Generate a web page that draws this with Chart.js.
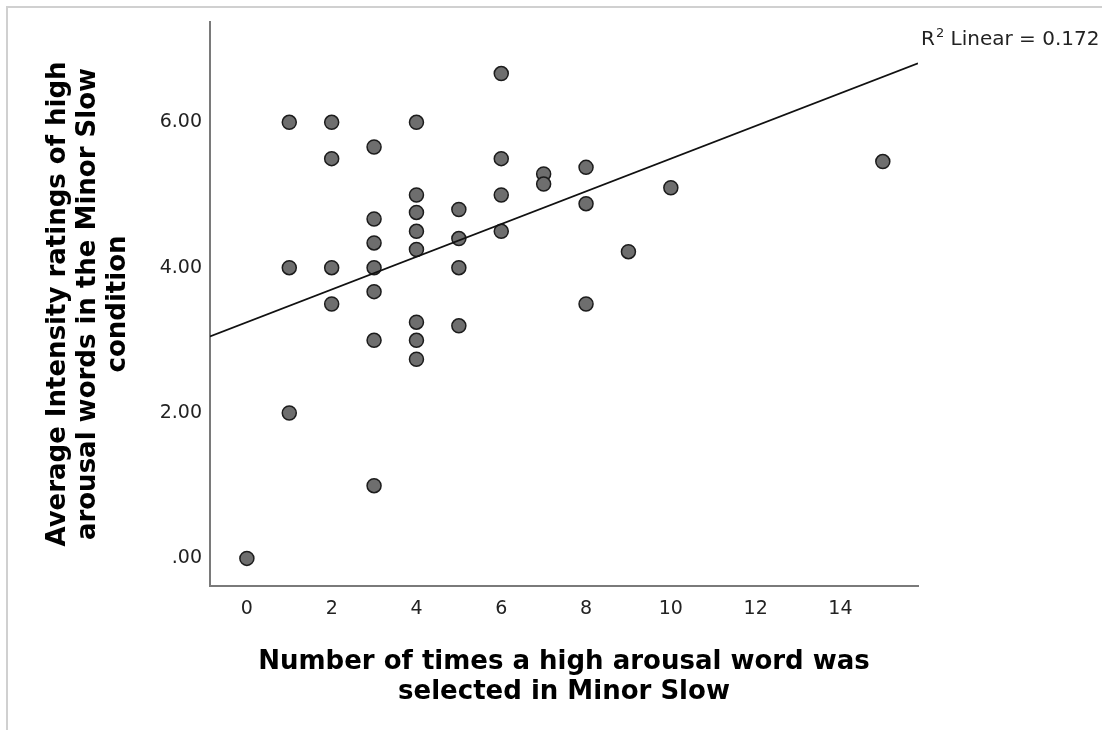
<!DOCTYPE html>
<html>
<head>
<meta charset="utf-8">
<title>Minor Slow</title>
<script src="https://cdn.jsdelivr.net/npm/chart.js@4.4.1/dist/chart.umd.min.js"></script>
<style>
  html, body { margin: 0; padding: 0; background: #fff; }
  #moldura { position: absolute; left: 6px; top: 6px; width: 1096px; height: 724px; border-top: 2px solid #d0d0d0; border-left: 2px solid #d0d0d0; }
  #caixa { position: absolute; left: 0; top: 0; width: 1102px; height: 730px; }
</style>
</head>
<body>
<div id="moldura"></div>
<div id="caixa"><canvas id="grafico"></canvas></div>
<script>
// axis ticks
var xTicks = [0, 2, 4, 6, 8, 10, 12, 14];
var yTicks = [0, 2, 4, 6];
var yTickLabels = ['.00', '2.00', '4.00', '6.00'];

// one entry per participant: times a high arousal word was selected / average rating
var selectedCounts = [
    0,
    1, 1, 1,
    2, 2, 2, 2,
    3, 3, 3, 3, 3, 3, 3,
    4, 4, 4, 4, 4, 4, 4, 4,
    5, 5, 5, 5,
    6, 6, 6, 6,
    7, 7,
    8, 8, 8,
    9,
    10,
    15
];
var intensityRatings = [
    0,
    6, 4, 2,
    6, 5.5, 4, 3.5,
    5.66, 4.67, 4.34, 4, 3.67, 3, 1,
    6, 5, 4.76, 4.5, 4.25, 3.25, 3, 2.74,
    4.8, 4.4, 4, 3.2,
    6.67, 5.5, 5, 4.5,
    5.29, 5.15,
    5.38, 4.88, 3.5,
    4.22,
    5.1,
    5.46
];

// linear fit
var fitIntercept = 3.25;
var fitSlope = 0.225;
var rSquared = '0.172';

var xMin = -0.87, xMax = 15.83;
var yMin = -0.38, yMax = 7.38;

var pontos = [];
for (var i = 0; i < selectedCounts.length; i++) {
    pontos.push({x: selectedCounts[i], y: intensityRatings[i]});
}

var reta = [
    {x: xMin, y: fitIntercept + fitSlope * xMin},
    {x: xMax, y: fitIntercept + fitSlope * xMax}
];

var fonteTexto = "'DejaVu Sans', Verdana, sans-serif";

// R2 label at the top right
var rotuloR2 = {
    id: 'rotuloR2',
    afterDraw: function(chart) {
        var ctx = chart.ctx;
        ctx.save();
        ctx.fillStyle = '#222';
        ctx.textBaseline = 'alphabetic';
        ctx.textAlign = 'left';
        var x = 921, y = 45;
        ctx.font = '20px ' + fonteTexto;
        ctx.fillText('R', x, y);
        x += ctx.measureText('R').width + 1;
        ctx.font = '13px ' + fonteTexto;
        ctx.fillText('2', x, y - 8);
        x += ctx.measureText('2').width;
        ctx.font = '20px ' + fonteTexto;
        ctx.fillText(' Linear = ' + rSquared, x, y);
        ctx.restore();
    }
};

var config = {
    type: 'scatter',
    data: {
        datasets: [{
            type: 'line',
            label: 'fit',
            data: reta,
            borderColor: '#111',
            borderWidth: 1.7,
            pointRadius: 0,
            fill: false,
            order: 0
        }, {
            type: 'scatter',
            label: 'participants',
            data: pontos,
            pointRadius: 7,
            pointBackgroundColor: '#6e6e6e',
            pointBorderColor: '#1c1c1c',
            pointBorderWidth: 1.5,
            order: 1
        }]
    },
    options: {
        responsive: true,
        maintainAspectRatio: false,
        animation: false,
        layout: {
            padding: {top: 22, right: 184, left: 0, bottom: 0}
        },
        plugins: {
            legend: {display: false},
            tooltip: {enabled: false}
        },
        scales: {
            x: {
                type: 'linear',
                min: xMin,
                max: xMax,
                afterBuildTicks: function(s) {
                    s.ticks = xTicks.map(function(v) { return {value: v}; });
                },
                afterFit: function(s) { s.height = 144; },
                grid: {display: false, drawTicks: false},
                border: {display: true, color: '#7a7a7a', width: 2},
                ticks: {
                    autoSkip: false,
                    maxRotation: 0,
                    padding: 12,
                    color: '#222',
                    font: {family: fonteTexto, size: 19},
                    callback: function(v) { return String(v); }
                },
                title: {
                    display: true,
                    text: ['Number of times a high arousal word was', 'selected in Minor Slow'],
                    color: '#000',
                    font: {family: fonteTexto, size: 26, weight: 'bold', lineHeight: 1.15},
                    padding: {top: 0, bottom: 23}
                }
            },
            y: {
                type: 'linear',
                min: yMin,
                max: yMax,
                afterBuildTicks: function(s) {
                    s.ticks = yTicks.map(function(v) { return {value: v}; });
                },
                afterFit: function(s) { s.width = 210; },
                grid: {display: false, drawTicks: false},
                border: {display: true, color: '#7a7a7a', width: 2},
                ticks: {
                    autoSkip: false,
                    padding: 8,
                    color: '#222',
                    font: {family: fonteTexto, size: 19},
                    callback: function(v, idx) { return yTickLabels[idx]; }
                },
                title: {
                    display: true,
                    text: ['Average Intensity ratings of high', 'arousal words in the Minor Slow', 'condition'],
                    color: '#000',
                    font: {family: fonteTexto, size: 26, weight: 'bold', lineHeight: 1.15},
                    padding: {top: 43, bottom: 0}
                }
            }
        }
    },
    plugins: [rotuloR2]
};

var grafico = new Chart(document.getElementById('grafico'), config);
</script>
</body>
</html>
